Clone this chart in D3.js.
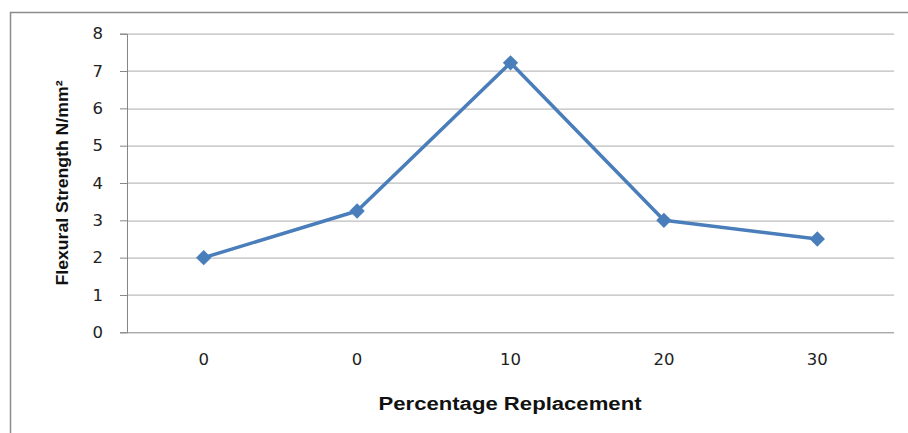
<!DOCTYPE html>
<html>
<head>
<meta charset="utf-8">
<script src="https://cdn.jsdelivr.net/npm/d3@7"></script>
<style>
  body { margin: 0; background: #fff; }
</style>
</head>
<body>
<div id="root"></div>
<script>
// categories (two points share the label "0")
var categories = ["0", "0", "10", "20", "30"];
var strength = [2.0, 3.25, 7.22, 3.0, 2.5];
var yTicks = [0, 1, 2, 3, 4, 5, 6, 7, 8];

var svgWidth = 908,
    svgHeight = 433;
var margin = { top: 33.7, right: 14, bottom: 101, left: 127 };
var width = 894 - margin.left,
    height = 332.3 - margin.top;

var svg = d3.select("#root")
    .append("svg")
    .attr("width", svgWidth)
    .attr("height", svgHeight);

// outer chart frame (only left and top edges are inside the picture)
svg.append("path")
    .attr("d", "M10.5,433 V12.5 H908")
    .attr("fill", "none")
    .attr("stroke", "#8c8c8c")
    .attr("stroke-width", 1.5);

var g = svg.append("g")
    .attr("transform", "translate(" + margin.left + "," + margin.top + ")");

var x = d3.scaleBand()
    .domain(d3.range(categories.length))
    .range([0, width]);

var y = d3.scaleLinear()
    .domain([0, 8])
    .range([height, 0]);

// gridlines
g.append("g")
    .selectAll("line")
    .data(yTicks.slice(1))
    .enter().append("line")
    .attr("x1", 0)
    .attr("x2", width)
    .attr("y1", function (d) { return Math.round(y(d)) + 0.5; })
    .attr("y2", function (d) { return Math.round(y(d)) + 0.5; })
    .attr("stroke", "#bdbdbd")
    .attr("stroke-width", 1.3);

// y axis
var yAxis = g.append("g")
    .call(d3.axisLeft(y).tickValues(yTicks).tickSize(7).tickPadding(17));
yAxis.select(".domain").attr("stroke", "#868686");
yAxis.selectAll(".tick line").attr("stroke", "#868686");
yAxis.selectAll("text")
    .style("font-family", "DejaVu Sans, Verdana, sans-serif")
    .style("font-size", "16.5px")
    .attr("fill", "#222");

// x axis
var xAxis = g.append("g")
    .attr("transform", "translate(0," + height + ")")
    .call(d3.axisBottom(x).tickSize(0).tickPadding(23)
        .tickFormat(function (i) { return categories[i]; }));
xAxis.select(".domain").attr("stroke", "#868686").attr("d", "M0,0.5H" + width);
xAxis.selectAll("text")
    .style("font-family", "DejaVu Sans, Verdana, sans-serif")
    .style("font-size", "16.5px")
    .attr("dy", "0.6em")
    .attr("fill", "#222");

// line
var line = d3.line()
    .x(function (d, i) { return x(i) + x.bandwidth() / 2; })
    .y(function (d) { return y(d); });

g.append("path")
    .datum(strength)
    .attr("d", line)
    .attr("fill", "none")
    .attr("stroke", "#4a7ebb")
    .attr("stroke-width", 3.5)
    .attr("stroke-linejoin", "round");

g.append("g")
    .selectAll("path")
    .data(strength)
    .enter().append("path")
    .attr("d", d3.symbol().type(d3.symbolDiamond2).size(150))
    .attr("transform", function (d, i) {
        return "translate(" + (x(i) + x.bandwidth() / 2) + "," + y(d) + ")";
    })
    .attr("fill", "#4a7ebb");

// axis titles
svg.append("text")
    .attr("x", 510)
    .attr("y", 410)
    .attr("text-anchor", "middle")
    .style("font-family", "Liberation Sans, Arial, sans-serif")
    .style("font-weight", "bold")
    .style("font-size", "18px")
    .attr("textLength", 263)
    .attr("lengthAdjust", "spacingAndGlyphs")
    .attr("fill", "#111")
    .text("Percentage Replacement");

svg.append("text")
    .attr("transform", "translate(68,183) rotate(-90)")
    .attr("text-anchor", "middle")
    .style("font-family", "Liberation Sans, Arial, sans-serif")
    .style("font-weight", "bold")
    .style("font-size", "17px")
    .attr("textLength", 205)
    .attr("lengthAdjust", "spacingAndGlyphs")
    .attr("fill", "#111")
    .text("Flexural Strength N/mm²");
</script>
</body>
</html>
